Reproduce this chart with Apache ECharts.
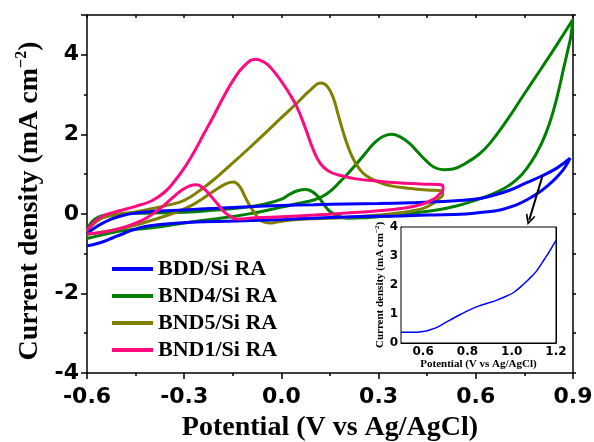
<!DOCTYPE html>
<html>
<head>
<meta charset="utf-8">
<script src="https://cdn.jsdelivr.net/npm/echarts@6/dist/echarts.min.js"></script>
<style>
  html, body { margin: 0; padding: 0; background: #fff; }
  #main { width: 594px; height: 442px; }
</style>
</head>
<body>
<div id="main"></div>
<script>
// CV loops, [potential V, current density mA cm-2], in scan order
var bddLoop = [
  [-0.600,-0.50],[-0.585,-0.40],[-0.560,-0.27],[-0.525,-0.13],[-0.490,-0.04],[-0.450,0.02],
  [-0.400,0.06],[-0.300,0.10],[-0.200,0.14],[-0.100,0.18],[0.000,0.21],[0.100,0.23],
  [0.200,0.25],[0.300,0.26],[0.400,0.28],[0.500,0.31],[0.560,0.34],[0.620,0.40],
  [0.660,0.48],[0.706,0.60],[0.750,0.76],[0.800,0.94],[0.850,1.15],[0.891,1.40],
  [0.882,1.26],[0.869,1.10],[0.845,0.88],[0.819,0.69],[0.790,0.51],[0.757,0.35],
  [0.720,0.21],[0.675,0.10],[0.620,0.04],[0.570,0.00],[0.450,-0.03],[0.366,-0.05],
  [0.200,-0.08],[0.010,-0.14],[-0.140,-0.18],[-0.280,-0.21],[-0.400,-0.29],[-0.450,-0.38],
  [-0.483,-0.48],[-0.520,-0.60],[-0.550,-0.70],[-0.580,-0.77],[-0.600,-0.80]
];
var bnd4Loop = [
  [-0.600,-0.62],[-0.560,-0.54],[-0.503,-0.44],[-0.450,-0.39],[-0.400,-0.35],[-0.300,-0.23],
  [-0.200,-0.12],[-0.100,0.00],[0.000,0.17],[0.050,0.26],[0.100,0.35],[0.129,0.45],
  [0.155,0.60],[0.181,0.81],[0.207,1.03],[0.232,1.26],[0.260,1.53],[0.284,1.76],
  [0.312,1.94],[0.340,2.00],[0.368,1.93],[0.397,1.76],[0.420,1.56],[0.445,1.35],
  [0.470,1.18],[0.500,1.11],[0.530,1.13],[0.570,1.28],[0.610,1.50],[0.644,1.78],
  [0.700,2.40],[0.750,3.02],[0.800,3.63],[0.850,4.25],[0.899,4.88],[0.893,4.45],
  [0.883,4.08],[0.870,3.62],[0.855,3.08],[0.838,2.55],[0.815,2.00],[0.788,1.53],
  [0.757,1.14],[0.726,0.86],[0.690,0.65],[0.640,0.46],[0.590,0.32],[0.540,0.20],
  [0.480,0.10],[0.407,0.02],[0.350,-0.04],[0.300,-0.07],[0.250,-0.10],[0.205,-0.11],
  [0.175,-0.06],[0.150,0.06],[0.130,0.25],[0.115,0.42],[0.095,0.56],[0.075,0.61],
  [0.050,0.58],[0.027,0.50],[0.000,0.37],[-0.050,0.25],[-0.107,0.17],[-0.200,0.10],
  [-0.300,0.04],[-0.400,0.02],[-0.500,0.00],[-0.540,-0.03],[-0.565,-0.08],[-0.585,-0.20],
  [-0.600,-0.40]
];
var bnd5Loop = [
  [-0.600,-0.46],[-0.585,-0.30],[-0.565,-0.16],[-0.544,-0.08],[-0.500,-0.01],[-0.450,0.05],
  [-0.400,0.13],[-0.350,0.22],[-0.300,0.34],[-0.250,0.60],[-0.200,0.92],[-0.150,1.28],
  [-0.100,1.65],[-0.050,2.03],[0.000,2.42],[0.050,2.80],[0.090,3.12],[0.122,3.29],
  [0.142,3.20],[0.160,2.92],[0.175,2.50],[0.191,2.05],[0.207,1.66],[0.222,1.38],
  [0.240,1.14],[0.263,0.95],[0.300,0.80],[0.335,0.71],[0.400,0.64],[0.450,0.60],
  [0.497,0.57],[0.498,0.48],[0.482,0.36],[0.464,0.24],[0.438,0.14],[0.405,0.08],
  [0.360,0.02],[0.300,-0.03],[0.200,-0.09],[0.100,-0.12],[0.040,-0.15],[-0.010,-0.20],
  [-0.035,-0.23],[-0.055,-0.20],[-0.070,-0.12],[-0.085,0.05],[-0.100,0.24],[-0.115,0.48],
  [-0.130,0.70],[-0.148,0.80],[-0.170,0.76],[-0.200,0.62],[-0.240,0.40],[-0.280,0.20],
  [-0.320,0.06],[-0.360,-0.06],[-0.400,-0.16],[-0.450,-0.28],[-0.503,-0.38],[-0.550,-0.45],
  [-0.600,-0.52]
];
var bnd1Loop = [
  [-0.600,-0.42],[-0.583,-0.25],[-0.560,-0.09],[-0.530,0.01],[-0.500,0.08],[-0.450,0.19],
  [-0.400,0.33],[-0.360,0.55],[-0.330,0.82],[-0.300,1.15],[-0.270,1.55],[-0.240,2.00],
  [-0.210,2.45],[-0.180,2.92],[-0.148,3.37],[-0.115,3.72],[-0.081,3.89],[-0.050,3.80],
  [-0.025,3.60],[0.000,3.33],[0.025,3.02],[0.047,2.70],[0.072,2.20],[0.098,1.62],
  [0.120,1.27],[0.145,1.08],[0.180,0.97],[0.230,0.88],[0.300,0.82],[0.360,0.78],
  [0.430,0.75],[0.497,0.72],[0.499,0.62],[0.486,0.48],[0.470,0.37],[0.433,0.24],
  [0.380,0.15],[0.300,0.08],[0.200,0.02],[0.100,-0.03],[0.000,-0.07],[-0.080,-0.10],
  [-0.138,-0.13],[-0.158,-0.06],[-0.178,0.06],[-0.198,0.26],[-0.220,0.47],[-0.240,0.64],
  [-0.262,0.73],[-0.285,0.70],[-0.310,0.58],[-0.340,0.38],[-0.369,0.17],[-0.410,-0.07],
  [-0.452,-0.24],[-0.500,-0.37],[-0.550,-0.46],[-0.600,-0.50]
];
// inset: BDD/Si RA anodic branch at high potential
var insetCurve = [
  [0.50,0.37],[0.55,0.37],[0.60,0.40],[0.63,0.45],[0.66,0.53],[0.70,0.70],[0.74,0.87],
  [0.77,0.99],[0.81,1.14],[0.85,1.27],[0.89,1.37],[0.93,1.47],[0.98,1.63],[1.01,1.75],
  [1.05,2.00],[1.08,2.22],[1.11,2.46],[1.14,2.80],[1.16,3.03],[1.18,3.28],[1.20,3.54]
];
var seriesNames = ['BDD/Si RA', 'BND4/Si RA', 'BND5/Si RA', 'BND1/Si RA'];
var seriesColors = ['#0000ff', '#008000', '#808000', '#ff0a80'];
// arrow pointing from the BDD loop down to the inset
var arrowFrom = [0.806, 0.96];
var arrowTo = [0.765, -0.15];

var chart = echarts.init(document.getElementById('main'));

var serif = 'Liberation Serif';
var sans = 'DejaVu Sans';
// open "V" arrow head, tip at the top
var chevron = 'path://M5,0 L10,9 L8.6,10 L5,3.4 L1.4,10 L0,9 Z';

function mainX(pos, labels) {
  return {
    type: 'value', gridIndex: 0, position: pos,
    min: -0.6, max: 0.9, interval: 0.3,
    axisLine: { onZero: false, lineStyle: { color: '#000', width: 1.5 } },
    axisTick: { inside: pos === 'top', length: pos === 'top' ? 3 : 6, lineStyle: { color: '#000', width: 1.5 } },
    minorTick: { show: true, splitNumber: 2, length: 3, lineStyle: { color: '#000', width: 1.5 } },
    splitLine: { show: false },
    axisLabel: {
      show: labels, margin: 13, color: '#000',
      fontFamily: sans, fontWeight: 'bold', fontSize: 22,
      formatter: function (v) { return v.toFixed(1); }
    }
  };
}
function mainY(pos, labels) {
  return {
    type: 'value', gridIndex: 0, position: pos,
    min: -4, max: 5, interval: 2,
    axisLine: { onZero: false, lineStyle: { color: '#000', width: 1.5 } },
    axisTick: { length: pos === 'left' ? 6 : 3, lineStyle: { color: '#000', width: 1.5 } },
    minorTick: { show: true, splitNumber: 2, length: 3, lineStyle: { color: '#000', width: 1.5 } },
    splitLine: { show: false },
    axisLabel: {
      show: labels, margin: 8, color: '#000',
      fontFamily: sans, fontWeight: 'bold', fontSize: 22,
      formatter: function (v) { return v === 5 ? '' : String(v); }
    }
  };
}
function insetX(pos, labels) {
  return {
    type: 'value', gridIndex: 1, position: pos,
    min: 0.5, max: 1.2, interval: 0.1,
    axisLine: { onZero: false, lineStyle: { color: '#000', width: 1 } },
    axisTick: { inside: true, length: 3, lineStyle: { color: '#000' } },
    splitLine: { show: false },
    axisLabel: {
      show: labels, margin: 3, color: '#000',
      fontFamily: sans, fontWeight: 'bold', fontSize: 12,
      formatter: function (v) {
        var k = Math.round(v * 10);
        return (k % 2 === 0) ? v.toFixed(1) : '';
      }
    }
  };
}
function insetY(pos, labels) {
  return {
    type: 'value', gridIndex: 1, position: pos,
    min: 0, max: 4, interval: 1,
    axisLine: { onZero: false, lineStyle: { color: '#000', width: 1 } },
    axisTick: { inside: true, length: 3, lineStyle: { color: '#000' } },
    minorTick: { show: true, splitNumber: 2, length: 2, lineStyle: { color: '#000' } },
    splitLine: { show: false },
    axisLabel: {
      show: labels, margin: 3, color: '#000',
      fontFamily: sans, fontWeight: 'bold', fontSize: 12
    }
  };
}

var xMain = mainX('bottom', true);
xMain.name = 'Potential (V vs Ag/AgCl)';
xMain.nameLocation = 'middle';
xMain.nameGap = 41;
xMain.nameTextStyle = { fontFamily: serif, fontWeight: 'bold', fontSize: 28, color: '#000' };

var yMain = mainY('left', true);
yMain.name = '{t|Current density (mA cm}{s|\u22122}{t|)}';
yMain.nameLocation = 'middle';
yMain.nameGap = 41;
yMain.nameTextStyle = {
  color: '#000',
  padding: [0, 0, 0, -14],
  rich: {
    t: { fontFamily: serif, fontWeight: 'bold', fontSize: 28, color: '#000', lineHeight: 32 },
    s: { fontFamily: serif, fontWeight: 'bold', fontSize: 16, color: '#000', verticalAlign: 'top', lineHeight: 32, padding: [0, 0, 12, 0] }
  }
};

var xIn = insetX('bottom', true);
xIn.name = 'Potential (V vs Ag/AgCl)';
xIn.nameLocation = 'middle';
xIn.nameGap = 15;
xIn.nameTextStyle = { fontFamily: serif, fontWeight: 'bold', fontSize: 11, color: '#000' };

var yIn = insetY('left', true);
yIn.name = '{t|Current density (mA cm}{s|\u22122}{t|)}';
yIn.nameLocation = 'middle';
yIn.nameGap = 13;
yIn.nameTextStyle = {
  color: '#000',
  rich: {
    t: { fontFamily: serif, fontWeight: 'bold', fontSize: 11, color: '#000', lineHeight: 13 },
    s: { fontFamily: serif, fontWeight: 'bold', fontSize: 7, color: '#000', verticalAlign: 'top', lineHeight: 13, padding: [0, 0, 5, 0] }
  }
};

var loops = [bddLoop, bnd4Loop, bnd5Loop, bnd1Loop];
var drawOrder = [1, 2, 0, 3];
var series = drawOrder.map(function (i) {
  return {
    name: seriesNames[i], type: 'line', xAxisIndex: 0, yAxisIndex: 0,
    data: loops[i], smooth: 0.45, symbol: 'none',
    lineStyle: { color: seriesColors[i], width: 3 },
    itemStyle: { color: seriesColors[i] },
    z: 2
  };
});
series.push({
  type: 'line', xAxisIndex: 0, yAxisIndex: 0, data: [], silent: true,
  markLine: {
    silent: true, symbol: ['none', chevron], symbolSize: [10, 11],
    label: { show: false },
    lineStyle: { color: '#000', width: 2, type: 'solid' },
    itemStyle: { color: '#000' },
    data: [[{ coord: arrowFrom }, { coord: arrowTo }]]
  }
});
series.push({
  type: 'line', xAxisIndex: 2, yAxisIndex: 2, data: insetCurve,
  smooth: 0.4, symbol: 'none',
  lineStyle: { color: '#0000ff', width: 1.5 }, z: 5
});

chart.setOption({
  backgroundColor: '#fff',
  animation: false,
  grid: [
    { left: 87, right: 21, top: 15, bottom: 69, outerBoundsMode: 'none' },
    { left: 401, right: 38, top: 227, bottom: 99, outerBoundsMode: 'none', show: true, backgroundColor: '#fff', borderColor: '#000', borderWidth: 1, z: 3 }
  ],
  legend: {
    data: seriesNames, orient: 'vertical', left: 112, top: 258, padding: 0,
    icon: 'rect', itemWidth: 41, itemHeight: 4, itemGap: 5,
    textStyle: { fontFamily: serif, fontWeight: 'bold', fontSize: 22, color: '#000' }
  },
  xAxis: [xMain, mainX('top', false), xIn, insetX('top', false)],
  yAxis: [yMain, mainY('right', false), yIn, insetY('right', false)],
  series: series
});
</script>
</body>
</html>
